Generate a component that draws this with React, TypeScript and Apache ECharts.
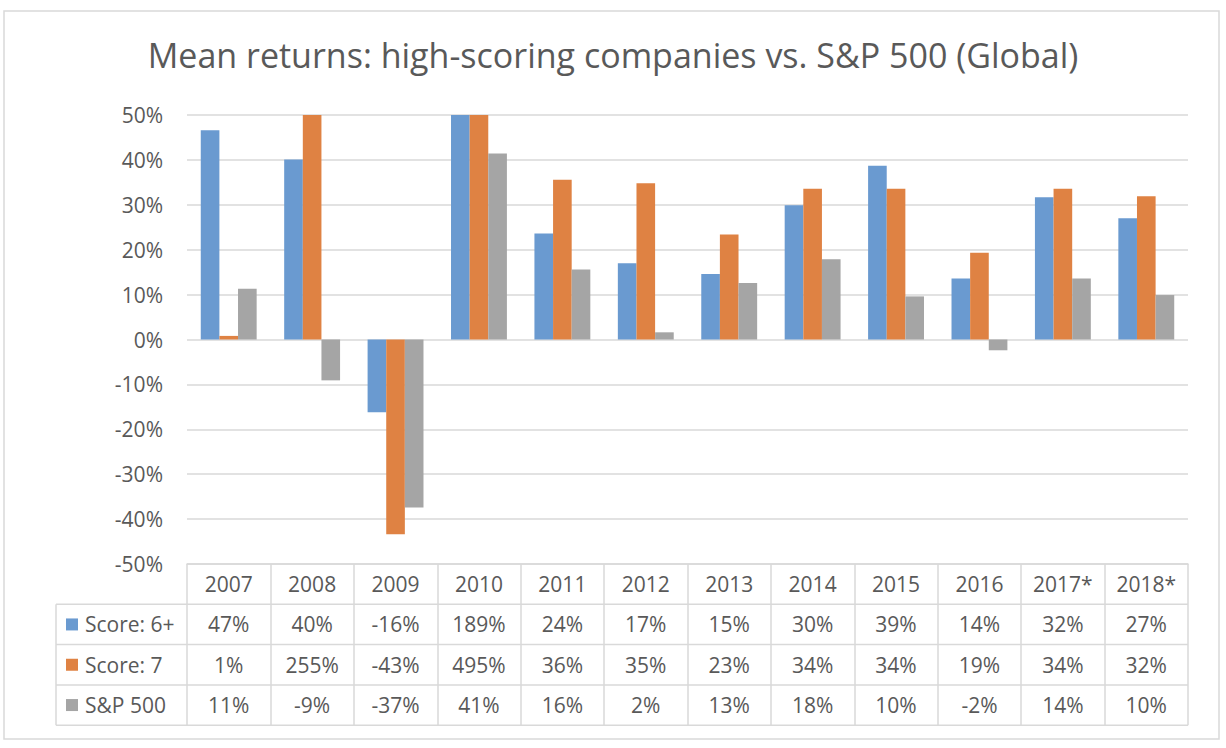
import React, { useEffect, useRef } from "react";
import * as echarts from "echarts";

const title = "Mean returns: high-scoring companies vs. S&P 500 (Global)";
const categories = ["2007", "2008", "2009", "2010", "2011", "2012", "2013", "2014", "2015", "2016", "2017*", "2018*"];
const seriesNames = ["Score: 6+", "Score: 7", "S&P 500"];
const score6 = [46.6, 40.1, -16.2, 189, 23.6, 17.0, 14.6, 29.9, 38.7, 13.6, 31.7, 27.0];
const score7 = [0.8, 255, -43.4, 495, 35.6, 34.8, 23.4, 33.6, 33.6, 19.3, 33.6, 31.9];
const sp500 = [11.3, -9.1, -37.4, 41.4, 15.6, 1.6, 12.6, 17.9, 9.6, -2.4, 13.6, 9.9];
const colors = ["#6A9AD0", "#DF8243", "#A5A5A5"];

const FONT = "'Open Sans', sans-serif";
const TXT = "#595959";
const LINE = "#D9D9D9";

export default function App() {
  const ref = useRef<HTMLDivElement>(null);
  useEffect(() => {
    document.body.style.margin = "0";
    const chart = echarts.init(ref.current!, null, { renderer: "svg" });
    const allSeries = [score6, score7, sp500];
    const gridLeft = 187;
    const gridRight = 1188;
    const gridTop = 115;
    const gridBottom = 564;
    const rowH = 40.3;
    const fmt = (v: number) => Math.round(v) + "%";

    const rowAxes = allSeries.map((arr, i) => ({
      type: "category",
      gridIndex: 0,
      position: "bottom",
      offset: rowH * (i + 1),
      data: arr.map(fmt),
      axisLine: { show: false },
      axisTick: { show: false },
      axisLabel: {
        color: TXT,
        fontFamily: FONT,
        fontSize: 21,
        margin: rowH / 2,
        verticalAlign: "middle",
        interval: 0,
      },
    }));

    const graphics: any[] = [
      {
        type: "rect",
        shape: { x: 4, y: 11, width: 1215, height: 728 },
        style: { fill: "none", stroke: LINE, lineWidth: 1.5 },
      },
    ];
    for (let k = 1; k <= 4; k++) {
      const y = gridBottom + rowH * k;
      graphics.push({
        type: "line",
        shape: { x1: 56, y1: y, x2: gridRight, y2: y },
        style: { stroke: LINE, lineWidth: 1.5 },
      });
    }
    graphics.push({
      type: "line",
      shape: { x1: 56, y1: gridBottom + rowH, x2: 56, y2: gridBottom + rowH * 4 },
      style: { stroke: LINE, lineWidth: 1.5 },
    });
    seriesNames.forEach((n, i) => {
      const cy = gridBottom + rowH * (i + 1.5);
      graphics.push({
        type: "rect",
        shape: { x: 66, y: cy - 6, width: 12, height: 12 },
        style: { fill: colors[i] },
      });
      graphics.push({
        type: "text",
        x: 85,
        y: cy,
        style: {
          text: n,
          fill: TXT,
          font: `21px ${FONT}`,
          verticalAlign: "middle",
          align: "left",
        },
      });
    });

    chart.setOption({
      animation: false,
      title: {
        text: title,
        left: "center",
        top: 33,
        textStyle: { color: TXT, fontFamily: FONT, fontSize: 34, fontWeight: "normal" },
      },
      grid: { left: gridLeft, right: 1226 - gridRight, top: gridTop, bottom: 748 - gridBottom },
      xAxis: [
        {
          type: "category",
          data: categories,
          position: "bottom",
          axisLine: { show: true, onZero: false, lineStyle: { color: LINE, width: 1.5 } },
          axisTick: { show: true, length: rowH * 4, lineStyle: { color: LINE, width: 1.5 } },
          axisLabel: {
            color: TXT,
            fontFamily: FONT,
            fontSize: 21,
            margin: rowH / 2,
            verticalAlign: "middle",
            interval: 0,
          },
        },
        ...rowAxes,
      ],
      yAxis: {
        type: "value",
        min: -50,
        max: 50,
        interval: 10,
        axisLine: { show: false },
        axisTick: { show: false },
        splitLine: { lineStyle: { color: LINE, width: 1.5 } },
        axisLabel: {
          formatter: "{value}%",
          color: TXT,
          fontFamily: FONT,
          fontSize: 21,
          margin: 24,
        },
      },
      series: allSeries.map((arr, i) => ({
        name: seriesNames[i],
        type: "bar",
        data: arr,
        xAxisIndex: 0,
        barGap: "0%",
        barCategoryGap: "33%",
        clip: true,
        itemStyle: { color: colors[i] },
      })),
      graphic: graphics,
    });
    return () => chart.dispose();
  }, []);
  return <div ref={ref} style={{ width: 1226, height: 748 }} />;
}
